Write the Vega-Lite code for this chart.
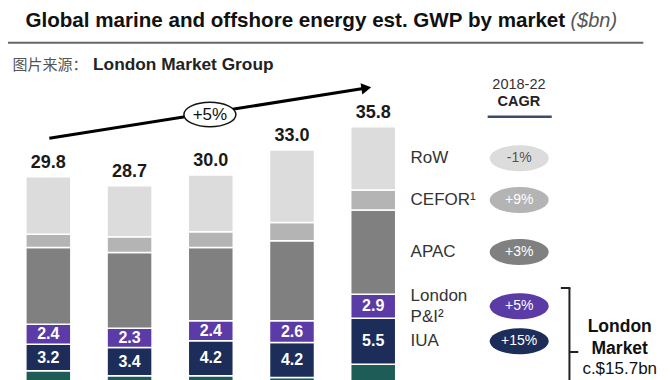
{
  "$schema": "https://vega.github.io/schema/vega-lite/v6.json",
  "width": 670,
  "height": 380,
  "autosize": {"type": "none"},
  "padding": 0,
  "background": "white",
  "config": {"view": {"stroke": null}, "font": "Liberation Sans"},
  "data": {"values": [{}]},
  "datasets": {
    "bars": [
      {"year": 2018, "seg": "Lloyd's", "order": 0, "value": 6.5},
      {"year": 2018, "seg": "IUA", "order": 1, "value": 3.2},
      {"year": 2018, "seg": "London P&I", "order": 2, "value": 2.4},
      {"year": 2018, "seg": "APAC", "order": 3, "value": 9.2},
      {"year": 2018, "seg": "CEFOR", "order": 4, "value": 1.6},
      {"year": 2018, "seg": "RoW", "order": 5, "value": 6.9},
      {"year": 2019, "seg": "Lloyd's", "order": 0, "value": 5.9},
      {"year": 2019, "seg": "IUA", "order": 1, "value": 3.4},
      {"year": 2019, "seg": "London P&I", "order": 2, "value": 2.3},
      {"year": 2019, "seg": "APAC", "order": 3, "value": 9.1},
      {"year": 2019, "seg": "CEFOR", "order": 4, "value": 1.9},
      {"year": 2019, "seg": "RoW", "order": 5, "value": 6.1},
      {"year": 2020, "seg": "Lloyd's", "order": 0, "value": 5.9},
      {"year": 2020, "seg": "IUA", "order": 1, "value": 4.2},
      {"year": 2020, "seg": "London P&I", "order": 2, "value": 2.4},
      {"year": 2020, "seg": "APAC", "order": 3, "value": 8.8},
      {"year": 2020, "seg": "CEFOR", "order": 4, "value": 1.9},
      {"year": 2020, "seg": "RoW", "order": 5, "value": 6.8},
      {"year": 2021, "seg": "Lloyd's", "order": 0, "value": 5.7},
      {"year": 2021, "seg": "IUA", "order": 1, "value": 4.2},
      {"year": 2021, "seg": "London P&I", "order": 2, "value": 2.6},
      {"year": 2021, "seg": "APAC", "order": 3, "value": 9.6},
      {"year": 2021, "seg": "CEFOR", "order": 4, "value": 2.2},
      {"year": 2021, "seg": "RoW", "order": 5, "value": 8.7},
      {"year": 2022, "seg": "Lloyd's", "order": 0, "value": 7.3},
      {"year": 2022, "seg": "IUA", "order": 1, "value": 5.5},
      {"year": 2022, "seg": "London P&I", "order": 2, "value": 2.9},
      {"year": 2022, "seg": "APAC", "order": 3, "value": 10.1},
      {"year": 2022, "seg": "CEFOR", "order": 4, "value": 2.4},
      {"year": 2022, "seg": "RoW", "order": 5, "value": 7.6}
    ],
    "totals": [
      {"year": 2018, "total": 29.8},
      {"year": 2019, "total": 28.7},
      {"year": 2020, "total": 30.0},
      {"year": 2021, "total": 33.0},
      {"year": 2022, "total": 35.8}
    ],
    "markets": [
      {"seg": "RoW", "label": "RoW", "cagr": "-1%"},
      {"seg": "CEFOR", "label": "CEFOR¹", "cagr": "+9%"},
      {"seg": "APAC", "label": "APAC", "cagr": "+3%"},
      {"seg": "London P&I", "label": "London\nP&I²", "cagr": "+5%"},
      {"seg": "IUA", "label": "IUA", "cagr": "+15%"}
    ]
  },
  "layer": [
    {
      "data": {"name": "bars"},
      "transform": [
        {"stack": "value", "groupby": ["year"], "sort": [{"field": "order", "order": "ascending"}], "as": ["v0", "v1"]}
      ],
      "mark": {"type": "bar", "size": 45, "clip": true, "stroke": "white", "strokeWidth": 1.5},
      "encoding": {
        "x": {"field": "year", "type": "quantitative", "scale": {"domain": [2017.4663, 2025.5925], "nice": false, "zero": false}, "axis": null},
        "y": {"field": "v0", "type": "quantitative", "scale": {"domain": [5.4, 51], "nice": false, "zero": false}, "axis": null},
        "y2": {"field": "v1"},
        "color": {
          "field": "seg", "type": "nominal", "legend": null,
          "scale": {"domain": ["RoW", "CEFOR", "APAC", "London P&I", "IUA", "Lloyd's"], "range": ["#dcdcdc", "#b4b4b4", "#808080", "#5b3ba6", "#1c2d5a", "#1e5c58"]}
        }
      }
    },
    {
      "data": {"name": "bars"},
      "transform": [
        {"stack": "value", "groupby": ["year"], "sort": [{"field": "order", "order": "ascending"}], "as": ["v0", "v1"]},
        {"filter": {"field": "seg", "oneOf": ["London P&I", "IUA"]}},
        {"fold": ["v0", "v1"], "as": ["edge", "ev"]},
        {"aggregate": [{"op": "mean", "field": "ev", "as": "mid"}, {"op": "max", "field": "value", "as": "val"}], "groupby": ["year", "seg"]}
      ],
      "mark": {"type": "text", "fontSize": 16, "fontWeight": "bold", "color": "white", "baseline": "middle"},
      "encoding": {
        "x": {"field": "year", "type": "quantitative", "scale": {"domain": [2017.4663, 2025.5925], "nice": false, "zero": false}, "axis": null},
        "y": {"field": "mid", "type": "quantitative", "scale": {"domain": [5.4, 51], "nice": false, "zero": false}, "axis": null},
        "text": {"field": "val", "type": "quantitative", "format": ".1f"}
      }
    },
    {
      "data": {"name": "totals"},
      "mark": {"type": "text", "fontSize": 18, "fontWeight": "bold", "color": "#1a1a1a", "baseline": "middle", "dy": -14},
      "encoding": {
        "x": {"field": "year", "type": "quantitative", "scale": {"domain": [2017.4663, 2025.5925], "nice": false, "zero": false}, "axis": null},
        "y": {"field": "total", "type": "quantitative", "scale": {"domain": [5.4, 51], "nice": false, "zero": false}, "axis": null},
        "text": {"field": "total", "type": "quantitative", "format": ".1f"}
      }
    },
    {
      "data": {"name": "bars"},
      "transform": [
        {"stack": "value", "groupby": ["year"], "sort": [{"field": "order", "order": "ascending"}], "as": ["v0", "v1"]},
        {"filter": {"field": "year", "equal": 2022}},
        {"filter": {"not": {"field": "seg", "equal": "Lloyd's"}}},
        {"fold": ["v0", "v1"], "as": ["edge", "ev"]},
        {"aggregate": [{"op": "mean", "field": "ev", "as": "mid"}], "groupby": ["seg"]},
        {"lookup": "seg", "from": {"data": {"name": "markets"}, "key": "seg", "fields": ["label", "cagr"]}}
      ],
      "encoding": {
        "y": {"field": "mid", "type": "quantitative", "scale": {"domain": [5.4, 51], "nice": false, "zero": false}, "axis": null}
      },
      "layer": [
        {
          "transform": [{"filter": {"not": {"field": "seg", "equal": "London P&I"}}}],
          "mark": {"type": "text", "fontSize": 17, "color": "#333333", "align": "left", "baseline": "middle"},
          "encoding": {
            "x": {"datum": 2022.46, "type": "quantitative", "scale": {"domain": [2017.4663, 2025.5925], "nice": false, "zero": false}, "axis": null},
            "text": {"field": "label"}
          }
        },
        {
          "transform": [{"filter": {"field": "seg", "equal": "London P&I"}}],
          "mark": {"type": "text", "fontSize": 17, "color": "#333333", "align": "left", "baseline": "middle", "lineBreak": "\n", "lineHeight": 21.5, "dy": -10.5},
          "encoding": {
            "x": {"datum": 2022.46, "type": "quantitative", "scale": {"domain": [2017.4663, 2025.5925], "nice": false, "zero": false}, "axis": null},
            "text": {"field": "label"}
          }
        },
        {
          "mark": {"type": "point", "filled": true, "opacity": 1, "size": 3481, "shape": "M-1,0A1,0.44 0 1,1 1,0A1,0.44 0 1,1 -1,0Z"},
          "encoding": {
            "x": {"datum": 2023.797, "type": "quantitative", "scale": {"domain": [2017.4663, 2025.5925], "nice": false, "zero": false}, "axis": null},
            "color": {"field": "seg", "type": "nominal", "legend": null}
          }
        },
        {
          "mark": {"type": "text", "fontSize": 14, "baseline": "middle"},
          "encoding": {
            "x": {"datum": 2023.797, "type": "quantitative", "scale": {"domain": [2017.4663, 2025.5925], "nice": false, "zero": false}, "axis": null},
            "text": {"field": "cagr"},
            "color": {"condition": {"test": "datum.seg === 'RoW'", "value": "#555555"}, "value": "#ffffff"}
          }
        }
      ]
    },
    {
      "mark": {"type": "text", "text": "Global marine and offshore energy est. GWP by market", "align": "left", "baseline": "alphabetic", "fontSize": 20.6, "fontWeight": "bold", "color": "#111111"},
      "encoding": {
        "x": {"datum": 2017.7174, "type": "quantitative", "scale": {"domain": [2017.4663, 2025.5925], "nice": false, "zero": false}, "axis": null},
        "y": {"datum": 47.8, "type": "quantitative", "scale": {"domain": [5.4, 51], "nice": false, "zero": false}, "axis": null}
      }
    },
    {
      "mark": {"type": "text", "text": "($bn)", "align": "left", "baseline": "alphabetic", "fontSize": 20, "fontStyle": "italic", "color": "#555555"},
      "encoding": {
        "x": {"datum": 2024.428, "type": "quantitative"},
        "y": {"datum": 47.8, "type": "quantitative"}
      }
    },
    {
      "mark": {"type": "rule", "color": "#666666", "strokeWidth": 2},
      "encoding": {
        "x": {"datum": 2017.5027, "type": "quantitative"},
        "x2": {"datum": 2025.3257},
        "y": {"datum": 45.88, "type": "quantitative"}
      }
    },
    {
      "mark": {"type": "text", "text": "图片来源：", "font": "Noto Sans CJK SC", "align": "left", "baseline": "alphabetic", "fontSize": 15, "color": "#555555"},
      "encoding": {
        "x": {"datum": 2017.56, "type": "quantitative"},
        "y": {"datum": 42.6, "type": "quantitative"}
      }
    },
    {
      "mark": {"type": "text", "text": "London Market Group", "align": "left", "baseline": "alphabetic", "fontSize": 17.3, "fontWeight": "bold", "color": "#222222"},
      "encoding": {
        "x": {"datum": 2018.55, "type": "quantitative"},
        "y": {"datum": 42.6, "type": "quantitative"}
      }
    },
    {
      "mark": {"type": "text", "text": "2018-22", "baseline": "middle", "fontSize": 14.5, "color": "#333333"},
      "encoding": {
        "x": {"datum": 2023.794, "type": "quantitative"},
        "y": {"datum": 40.8, "type": "quantitative"}
      }
    },
    {
      "mark": {"type": "text", "text": "CAGR", "baseline": "middle", "fontSize": 14.5, "fontWeight": "bold", "color": "#222222"},
      "encoding": {
        "x": {"datum": 2023.794, "type": "quantitative"},
        "y": {"datum": 38.8, "type": "quantitative"}
      }
    },
    {
      "mark": {"type": "rule", "color": "#3d4b66", "strokeWidth": 2.5},
      "encoding": {
        "x": {"datum": 2023.409, "type": "quantitative"},
        "x2": {"datum": 2024.198},
        "y": {"datum": 37.0, "type": "quantitative"}
      }
    },
    {
      "mark": {"type": "rule", "color": "#000000", "strokeWidth": 3},
      "encoding": {
        "x": {"datum": 2018.012, "type": "quantitative"},
        "x2": {"datum": 2021.915},
        "y": {"datum": 34.4, "type": "quantitative"},
        "y2": {"datum": 40.43}
      }
    },
    {
      "mark": {"type": "point", "shape": "triangle-right", "filled": true, "color": "#000000", "opacity": 1, "size": 130, "angle": 351.1},
      "encoding": {
        "x": {"datum": 2021.915, "type": "quantitative"},
        "y": {"datum": 40.43, "type": "quantitative"}
      }
    },
    {
      "mark": {"type": "point", "shape": "M-1,0A1,0.47 0 1,1 1,0A1,0.47 0 1,1 -1,0Z", "filled": true, "fill": "white", "stroke": "#111111", "strokeWidth": 1.5, "opacity": 1, "size": 2704},
      "encoding": {
        "x": {"datum": 2019.989, "type": "quantitative"},
        "y": {"datum": 37.26, "type": "quantitative"}
      }
    },
    {
      "mark": {"type": "text", "text": "+5%", "baseline": "middle", "fontSize": 17, "color": "#111111"},
      "encoding": {
        "x": {"datum": 2019.989, "type": "quantitative"},
        "y": {"datum": 37.26, "type": "quantitative"}
      }
    },
    {
      "mark": {"type": "rule", "color": "#222222", "strokeWidth": 2},
      "encoding": {
        "x": {"datum": 2024.416, "type": "quantitative"},
        "y": {"datum": 16.44, "type": "quantitative"},
        "y2": {"datum": 5.4}
      }
    },
    {
      "mark": {"type": "rule", "color": "#222222", "strokeWidth": 2},
      "encoding": {
        "x": {"datum": 2024.31, "type": "quantitative"},
        "x2": {"datum": 2024.428},
        "y": {"datum": 16.44, "type": "quantitative"}
      }
    },
    {
      "mark": {"type": "rule", "color": "#222222", "strokeWidth": 2},
      "encoding": {
        "x": {"datum": 2024.416, "type": "quantitative"},
        "x2": {"datum": 2024.525},
        "y": {"datum": 8.76, "type": "quantitative"}
      }
    },
    {
      "mark": {"type": "text", "text": "London", "baseline": "middle", "fontSize": 17.5, "fontWeight": "bold", "color": "#111111"},
      "encoding": {
        "x": {"datum": 2025.035, "type": "quantitative"},
        "y": {"datum": 11.76, "type": "quantitative"}
      }
    },
    {
      "mark": {"type": "text", "text": "Market", "baseline": "middle", "fontSize": 17.5, "fontWeight": "bold", "color": "#111111"},
      "encoding": {
        "x": {"datum": 2025.035, "type": "quantitative"},
        "y": {"datum": 9.12, "type": "quantitative"}
      }
    },
    {
      "mark": {"type": "text", "text": "c.$15.7bn", "baseline": "middle", "fontSize": 17, "color": "#111111"},
      "encoding": {
        "x": {"datum": 2025.035, "type": "quantitative"},
        "y": {"datum": 6.72, "type": "quantitative"}
      }
    },
    {
      "mark": {"type": "text", "text": "7% CAGR", "baseline": "middle", "fontSize": 17, "color": "#111111"},
      "encoding": {
        "x": {"datum": 2025.035, "type": "quantitative"},
        "y": {"datum": 4.4, "type": "quantitative"}
      }
    }
  ]
}
